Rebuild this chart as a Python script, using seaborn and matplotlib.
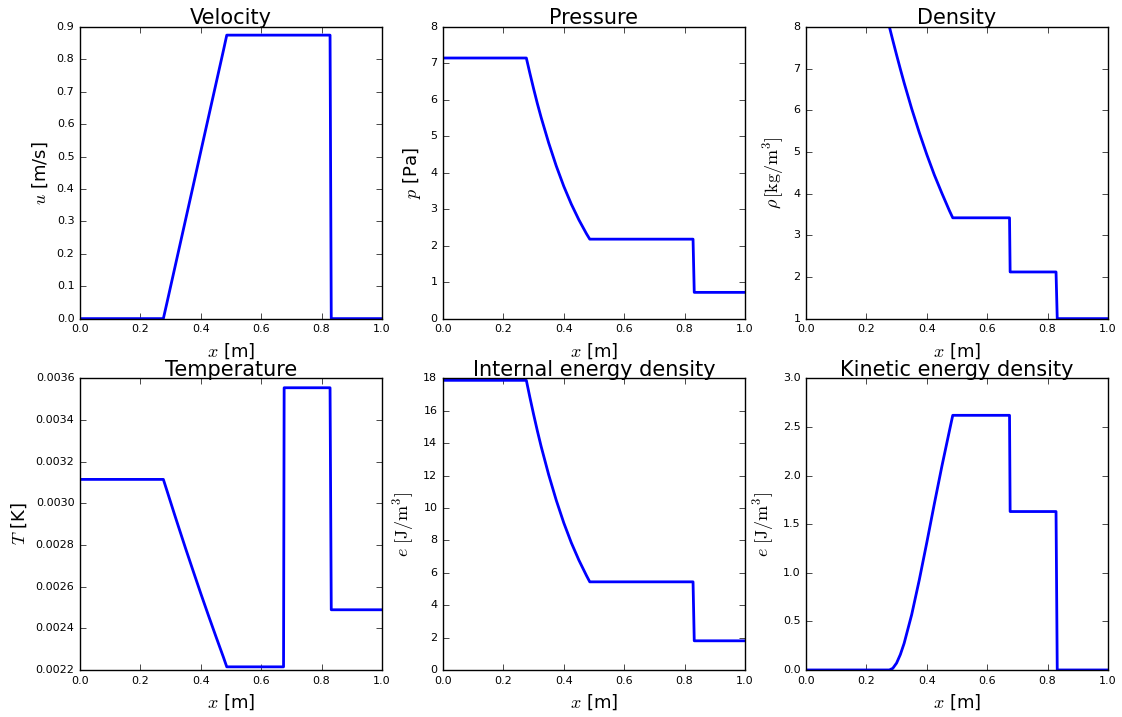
import numpy as np
import pandas as pd
import matplotlib
matplotlib.use("Agg")
import matplotlib.pyplot as plt
from matplotlib.ticker import FormatStrFormatter, MultipleLocator
import seaborn as sns

# ---- data (Sod-type shock tube profiles) ----
x_pos = [0.0, 0.276, 0.2875, 0.30, 0.3125, 0.325, 0.35, 0.375, 0.40, 0.425,
         0.45, 0.475, 0.486, 0.674, 0.676, 0.828, 0.832, 1.0]
velocity = [0, 0, 0.047, 0.099, 0.151, 0.203, 0.307, 0.411, 0.516, 0.620,
            0.724, 0.828, 0.875, 0.875, 0.875, 0.875, 0, 0]
pressure = [7.15, 7.15, 6.74, 6.31, 5.90, 5.52, 4.82, 4.19, 3.63, 3.14,
            2.71, 2.33, 2.18, 2.18, 2.18, 2.18, 0.72, 0.72]
density = [8.01, 8.01, 7.68, 7.33, 6.99, 6.66, 6.04, 5.47, 4.94, 4.45,
           4.01, 3.59, 3.42, 3.42, 2.12, 2.12, 1.0, 1.0]
temperature = [0.003115, 0.003115, 0.003063, 0.003006, 0.002949, 0.002893,
               0.002782, 0.002674, 0.002567, 0.002463, 0.002361, 0.002261,
               0.002215, 0.002215, 0.003555, 0.003555, 0.002489, 0.002489]
internal_energy = [17.88, 17.88, 16.85, 15.78, 14.76, 13.80, 12.05, 10.48,
                   9.08, 7.85, 6.78, 5.83, 5.44, 5.44, 5.44, 5.44, 1.80, 1.80]
kinetic_energy = [0, 0, 0.017, 0.071, 0.159, 0.274, 0.569, 0.924, 1.310,
                  1.709, 2.096, 2.461, 2.62, 2.62, 1.63, 1.63, 0, 0]

titles = ["Velocity", "Pressure", "Density", "Temperature",
          "Internal energy density", "Kinetic energy density"]
ylabels = [r"$u$ [m/s]", r"$p$ [Pa]", r"$\rho\,[\mathrm{kg/m^3}]$",
           r"$T$ [K]", r"$e\ [\mathrm{J/m^3}]$", r"$e\ [\mathrm{J/m^3}]$"]
ylims = [(0, 0.9), (0, 8), (1, 8), (0.0022, 0.0036), (0, 18), (0, 3.0)]
ysteps = [0.1, 1, 1, 0.0002, 2, 0.5]
yfmts = ["%.1f", "%d", "%d", "%.4f", "%d", "%.1f"]

df = pd.DataFrame({"x": x_pos, "u": velocity, "p": pressure, "rho": density,
                   "T": temperature, "e": internal_energy, "ke": kinetic_energy})
cols = ["u", "p", "rho", "T", "e", "ke"]

plt.style.use("classic")
sns.set_style("ticks", {"xtick.direction": "in", "ytick.direction": "in"})
plt.rcParams.update({
    "font.family": ["DejaVu Sans"],
    "mathtext.fontset": "cm",
    "figure.facecolor": "white",
    "savefig.facecolor": "white",
    "text.color": "black",
    "axes.labelcolor": "black",
    "axes.edgecolor": "black",
    "axes.linewidth": 1.0,
    "xtick.color": "black",
    "ytick.color": "black",
    "xtick.labelsize": 8,
    "ytick.labelsize": 8,
    "xtick.major.size": 4,
    "ytick.major.size": 4,
    "xtick.top": True,
    "ytick.right": True,
    "xtick.direction": "in",
    "ytick.direction": "in",
})

fig, axes = plt.subplots(2, 3, figsize=(11.22, 7.17), dpi=100)
fig.subplots_adjust(left=0.0713, right=0.9875, top=0.9623, bottom=0.0656,
                    wspace=0.202, hspace=0.205)

for ax, col, title, ylab, ylim, step, fmt in zip(axes.flat, cols, titles, ylabels,
                                                  ylims, ysteps, yfmts):
    sns.lineplot(data=df, x="x", y=col, ax=ax, color="#0000ff", linewidth=2,
                 estimator=None, sort=False)
    ax.set_xlim(0, 1)
    ax.set_ylim(*ylim)
    ax.xaxis.set_major_locator(MultipleLocator(0.2))
    ax.xaxis.set_major_formatter(FormatStrFormatter("%.1f"))
    ax.yaxis.set_major_locator(MultipleLocator(step))
    ax.yaxis.set_major_formatter(FormatStrFormatter(fmt))
    ax.tick_params(which="both", direction="in", top=True, right=True,
                   labelsize=8, length=4, colors="black")
    ax.minorticks_off()
    ax.set_title(title, fontsize=15, pad=2, color="black")
    ax.set_xlabel(r"$x$ [m]", fontsize=13, labelpad=5, color="black")
    ax.set_ylabel(ylab, fontsize=13, color="black")
    for s in ax.spines.values():
        s.set_visible(True)
        s.set_color("black")
    ax.set_facecolor("white")

fig.savefig("out.png", dpi=100)
